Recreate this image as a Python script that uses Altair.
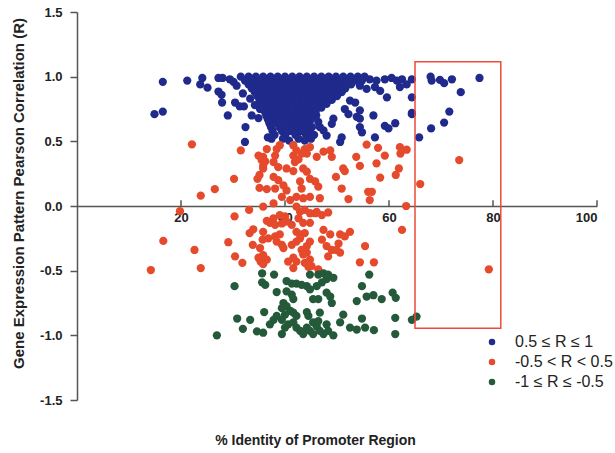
import altair as alt
import pandas as pd

categories = ["0.5 \u2264 R \u2264 1", "-0.5 < R < 0.5", "-1 \u2264 R \u2264 -0.5"]
colors = ["#1f2a8c", "#e64a2c", "#245a3a"]

# scattered blue points (x = % identity, y = R)
blue_scatter = [
    (16.5, 0.96), (21.2, 0.97), (24.1, 0.99), (23.7, 0.94), (25.1, 0.915), (27.2, 0.99),
    (28.0, 0.99), (29.4, 0.98), (30.1, 0.96), (30.7, 0.93), (27.2, 0.885), (27.8, 0.86),
    (27.9, 0.80), (30.4, 0.80), (31.3, 0.77), (32.1, 0.77), (14.9, 0.71), (16.5, 0.73),
    (29.0, 0.70), (32.4, 0.61), (32.3, 0.495), (33.6, 0.70), (34.9, 0.68), (36.7, 0.53),
    (31.9, 0.87), (33.3, 0.83), (34.2, 0.78), (35.2, 0.75),
    (56.3, 0.98), (57.6, 0.97), (59.2, 0.98), (60.5, 0.99), (61.5, 0.97), (62.5, 0.98),
    (63.4, 0.94), (64.4, 0.98), (54.4, 0.93), (55.7, 0.905), (57.3, 0.92), (58.3, 0.89),
    (59.6, 0.84), (64.4, 0.84), (62.1, 0.92), (52.5, 0.815), (53.5, 0.80), (54.4, 0.74),
    (53.8, 0.69), (54.4, 0.675), (57.0, 0.70), (59.2, 0.62), (61.2, 0.64), (59.9, 0.60),
    (64.4, 0.71), (57.3, 0.53), (54.4, 0.61), (54.8, 0.57), (50.6, 0.495), (50.9, 0.53),
    (51.5, 0.75), (52.2, 0.71), (49.3, 0.675), (49.0, 0.635), (47.4, 0.585), (48.0, 0.545),
    (46.4, 0.65), (46.7, 0.61),
    (68.0, 1.0), (68.2, 0.97), (69.8, 0.975), (70.6, 0.95), (72.1, 0.98), (77.4, 0.99),
    (73.8, 0.88), (71.6, 0.73), (70.6, 0.645), (68.1, 0.60), (65.8, 0.53), (64.4, 0.72),
]

# dense blue mass, read row by row (R level, x positions)
blue_rows = [
    (1.00, [31.5, 33.0, 34.4, 35.8, 37.2, 38.6, 40.0, 41.4, 42.8, 44.2, 45.6, 47.0, 48.4, 49.8, 51.2, 52.6, 54.0, 55.3]),
    (0.97, [32.3, 33.8, 35.2, 36.6, 38.0, 39.4, 40.8, 42.2, 43.6, 45.0, 46.4, 47.8, 49.2, 50.6, 52.0, 53.4, 54.8]),
    (0.94, [33.0, 34.5, 35.9, 37.3, 38.7, 40.1, 41.5, 42.9, 44.3, 45.7, 47.1, 48.5, 49.9, 51.3, 52.7]),
    (0.91, [33.6, 35.1, 36.5, 37.9, 39.3, 40.7, 42.1, 43.5, 44.9, 46.3, 47.7, 49.1, 50.5, 51.6]),
    (0.88, [34.2, 35.6, 37.0, 38.4, 39.8, 41.2, 42.6, 44.0, 45.4, 46.8, 48.2, 49.6, 50.9]),
    (0.85, [34.7, 36.1, 37.5, 38.9, 40.3, 41.7, 43.1, 44.5, 45.9, 47.3, 48.7, 50.0]),
    (0.82, [35.1, 36.5, 37.9, 39.3, 40.7, 42.1, 43.5, 44.9, 46.3, 47.7, 49.0]),
    (0.79, [35.4, 36.8, 38.2, 39.6, 41.0, 42.4, 43.8, 45.2, 46.6, 48.0]),
    (0.76, [35.8, 37.2, 38.6, 40.0, 41.4, 42.8, 44.2, 45.6, 47.0]),
    (0.73, [36.1, 37.5, 38.9, 40.3, 41.7, 43.1, 44.5, 45.9]),
    (0.70, [36.4, 37.8, 39.2, 40.6, 42.0, 43.4, 44.8, 46.0]),
    (0.67, [36.7, 38.1, 39.5, 40.9, 42.3, 43.7, 45.0]),
    (0.64, [37.0, 38.5, 40.0, 41.5, 43.0, 44.4]),
    (0.61, [37.3, 38.9, 40.5, 42.1, 43.7, 45.2]),
    (0.58, [37.6, 39.4, 41.2, 43.0, 44.6]),
    (0.55, [38.0, 40.1, 42.0, 44.0, 45.6]),
    (0.52, [37.4, 39.6, 42.6, 45.0]),
    (0.505, [40.8, 43.8]),
]

red_pts = [
    (22.1, 0.477), (31.5, 0.43), (34.9, 0.39), (35.8, 0.38), (35.5, 0.355), (36.2, 0.345),
    (35.8, 0.31), (36.5, 0.44), (30.2, 0.21), (35.1, 0.24), (34.7, 0.21), (35.1, 0.14),
    (36.5, 0.13), (26.5, 0.13), (23.8, 0.08), (19.8, -0.04), (33.1, -0.03), (30.3, -0.08),
    (33.9, -0.18), (33.2, -0.21), (36.5, -0.115), (16.6, -0.27), (29.1, -0.28), (33.8, -0.30),
    (35.7, -0.26), (36.8, -0.25), (22.6, -0.34), (30.4, -0.39), (31.8, -0.44), (34.9, -0.40),
    (35.8, -0.38), (35.3, -0.43), (36.5, -0.415), (14.2, -0.495), (23.8, -0.48), (40.6, -0.43),
    (41.6, -0.48), (44.5, -0.47), (46.4, -0.49), (54.4, -0.435), (57.1, -0.435),
    (38.4, 0.44), (39.0, 0.47), (41.6, 0.47), (42.2, 0.43), (43.8, 0.44), (44.8, 0.455),
    (44.2, 0.405), (47.4, 0.42), (48.7, 0.43), (49.0, 0.38), (46.1, 0.38), (55.7, 0.475),
    (57.9, 0.45), (59.2, 0.39), (62.1, 0.455), (63.4, 0.435), (62.2, 0.405), (53.7, 0.38),
    (54.4, 0.31), (57.6, 0.33), (51.2, 0.29), (51.5, 0.27), (49.8, 0.225), (58.3, 0.22),
    (61.3, 0.24), (61.9, 0.29), (66.0, 0.17), (73.5, 0.355), (79.2, -0.49), (63.3, 0.0),
    (62.5, -0.185), (50.9, 0.135), (56.0, 0.11), (56.7, 0.11), (56.3, 0.046), (52.2, 0.054),
    (46.7, 0.06), (48.3, -0.05), (46.1, -0.045), (47.1, -0.07),
    (35.8, 0.29), (38.1, 0.39), (37.8, 0.34), (38.7, 0.30), (41.6, 0.39), (42.6, 0.36),
    (41.9, 0.34), (43.2, 0.405), (40.3, 0.29), (41.6, 0.27), (43.5, 0.29), (44.2, 0.265),
    (37.8, 0.225), (38.7, 0.20), (39.7, 0.16), (38.1, 0.135), (44.8, 0.21), (45.8, 0.19),
    (46.4, 0.15), (42.9, 0.19), (43.2, 0.135), (42.2, 0.07), (43.5, 0.06), (44.8, 0.07),
    (40.3, 0.12), (39.4, 0.07), (41.0, 0.046), (37.8, 0.02), (35.8, -0.005), (42.2, -0.005),
    (42.9, -0.044), (43.8, -0.03), (44.8, -0.056), (45.8, -0.056), (37.8, -0.095), (37.1, -0.13),
    (38.1, -0.146), (42.6, -0.095), (43.5, -0.13), (44.8, -0.13), (41.3, -0.146), (35.8, -0.2),
    (38.1, -0.235), (42.2, -0.2), (43.8, -0.21), (42.9, -0.25), (44.8, -0.275), (44.2, -0.31),
    (39.7, -0.325), (41.3, -0.30), (44.2, -0.36), (44.8, -0.415), (43.8, -0.44), (45.1, -0.465),
    (35.2, -0.325), (35.8, -0.45), (47.4, -0.185), (48.7, -0.22), (47.1, -0.26), (48.0, -0.31),
    (49.0, -0.34), (50.6, -0.22), (51.5, -0.235), (52.5, -0.2), (50.3, -0.29), (49.9, -0.34),
    (55.4, -0.31), (48.3, -0.39), (50.6, -0.36), (41.6, -0.40), (42.2, -0.43),
    (39.0, -0.07), (40.0, -0.08), (40.3, -0.12), (39.4, -0.135), (42.9, -0.22), (42.2, -0.275),
    (43.2, -0.34), (43.5, -0.375), (39.0, -0.22), (38.4, -0.275), (39.4, -0.30),
]

green_pts = [
    (35.6, -0.52), (37.9, -0.53), (35.6, -0.59), (36.2, -0.61), (30.3, -0.62), (40.3, -0.58),
    (41.3, -0.60), (42.2, -0.60), (43.2, -0.61), (44.2, -0.62), (44.8, -0.53), (46.4, -0.53),
    (47.4, -0.52), (48.3, -0.53), (49.3, -0.555), (48.0, -0.565), (47.1, -0.59), (46.1, -0.62),
    (44.8, -0.645), (38.4, -0.665), (40.3, -0.66), (41.3, -0.685), (41.6, -0.72), (45.4, -0.72),
    (46.4, -0.72), (48.0, -0.67), (48.7, -0.70), (49.0, -0.75), (39.7, -0.75), (39.4, -0.79),
    (40.3, -0.775), (41.0, -0.81), (40.0, -0.84), (41.6, -0.825), (36.0, -0.82), (44.2, -0.82),
    (44.5, -0.85), (46.7, -0.825), (51.2, -0.84), (54.8, -0.62), (56.2, -0.53), (55.7, -0.70),
    (57.0, -0.69), (58.6, -0.72), (53.8, -0.735), (60.7, -0.67), (61.3, -0.71), (61.2, -0.865),
    (64.4, -0.88), (65.3, -0.855), (30.8, -0.87), (33.3, -0.88), (31.9, -0.95), (26.9, -1.0),
    (34.6, -0.97), (35.8, -0.98), (37.1, -0.915), (37.8, -0.88), (38.4, -0.85), (39.4, -0.88),
    (39.4, -0.99), (40.0, -0.94), (40.6, -0.915), (42.2, -0.85), (42.2, -0.94), (42.9, -0.965),
    (43.5, -0.99), (44.2, -0.94), (44.8, -0.965), (45.4, -0.99), (46.1, -0.93), (46.7, -0.965),
    (47.4, -0.99), (48.0, -0.915), (48.3, -0.965), (49.3, -1.0), (46.4, -0.89), (50.6, -0.90),
    (52.5, -0.94), (54.8, -0.87), (53.8, -0.955), (55.4, -0.94), (57.1, -0.96), (61.2, -0.99),
    (41.6, -0.90), (45.4, -0.90),
]

# highlighted region box (data coordinates)
box_x = [65.0]
box_x2 = [81.5]
box_y = [1.115]
box_y2 = [-0.946]

x_ticks = [20, 40, 60, 80, 100]
y_ticks = [-1.5, -1.0, -0.5, 0.0, 0.5, 1.0, 1.5]

rows = []
for x, y in blue_scatter:
    rows.append({"x": x, "y": y, "group": categories[0]})
for level, xs in blue_rows:
    for x in xs:
        rows.append({"x": x, "y": level, "group": categories[0]})
for x, y in red_pts:
    rows.append({"x": x, "y": y, "group": categories[1]})
for x, y in green_pts:
    rows.append({"x": x, "y": y, "group": categories[2]})
df = pd.DataFrame(rows)

FONT = "Liberation Sans"

xscale = alt.Scale(domain=[0, 100], nice=False, zero=False)
yscale = alt.Scale(domain=[-1.5, 1.5], nice=False, zero=False)

points = alt.Chart(df).mark_circle(size=68, opacity=1).encode(
    x=alt.X("x:Q", scale=xscale, axis=alt.Axis(
        orient="bottom", offset=-194, values=x_ticks, format="d",
        ticks=False, tickSize=0, labelPadding=5, grid=False,
        labelFont=FONT, labelFontSize=13, labelFontWeight="bold", labelColor="#222222",
        domainColor="#555555", domainWidth=1.5,
        title="% Identity of Promoter Region", titleFont=FONT, titleFontSize=14,
        titleFontWeight="bold", titleColor="#222222", titleX=238, titleY=234,
        titleAlign="center", titleBaseline="middle")),
    y=alt.Y("y:Q", scale=yscale, axis=alt.Axis(
        values=y_ticks, labelExpr="replace(format(datum.value, '.1f'), '\u2212', '-')",
        grid=False, tickSize=7, tickColor="#555555",
        tickWidth=1.5, labelPadding=8, labelFont=FONT, labelFontSize=13,
        labelFontWeight="bold", labelColor="#222222", domainColor="#555555", domainWidth=1.5,
        title="Gene Expression Pattern  Pearson Correlation (R)", titleFont=FONT,
        titleFontSize=15, titleFontWeight="bold", titleColor="#222222",
        titleX=-59, titleY=181, titleAlign="center", titleBaseline="middle", titleAngle=270)),
    color=alt.Color("group:N", scale=alt.Scale(domain=categories, range=colors),
                    sort=categories,
                    legend=alt.Legend(title=None, orient="none", legendX=407, legendY=322,
                                      symbolType="circle", symbolSize=42, labelFont=FONT,
                                      labelFontSize=16, labelColor="#222222", labelOffset=15,
                                      rowPadding=4, padding=0)),
)

# x-axis tick marks pointing up from the zero line
tick_df = pd.DataFrame({"t": x_ticks, "z": [0.0] * len(x_ticks), "z2": [0.045] * len(x_ticks)})
ticks = alt.Chart(tick_df).mark_rule(color="#555555", strokeWidth=1.5).encode(
    x=alt.X("t:Q", scale=xscale),
    y=alt.Y("z:Q", scale=yscale),
    y2="z2:Q",
)

box_df = pd.DataFrame({"x": box_x, "x2": box_x2, "y": box_y, "y2": box_y2})
box = alt.Chart(box_df).mark_rect(fillOpacity=0, stroke="#ee4b3b", strokeWidth=1.5).encode(
    x=alt.X("x:Q", scale=xscale), x2="x2:Q",
    y=alt.Y("y:Q", scale=yscale), y2="y2:Q",
)

chart = alt.layer(ticks, points, box).properties(
    width=520, height=388,
    padding={"left": 77, "top": 12, "right": 18, "bottom": 53},
    autosize=alt.AutoSizeParams(type="none"),
    background="white",
).configure_view(stroke=None)

chart.save("out.html", embed_options={"renderer": "svg", "actions": False})
